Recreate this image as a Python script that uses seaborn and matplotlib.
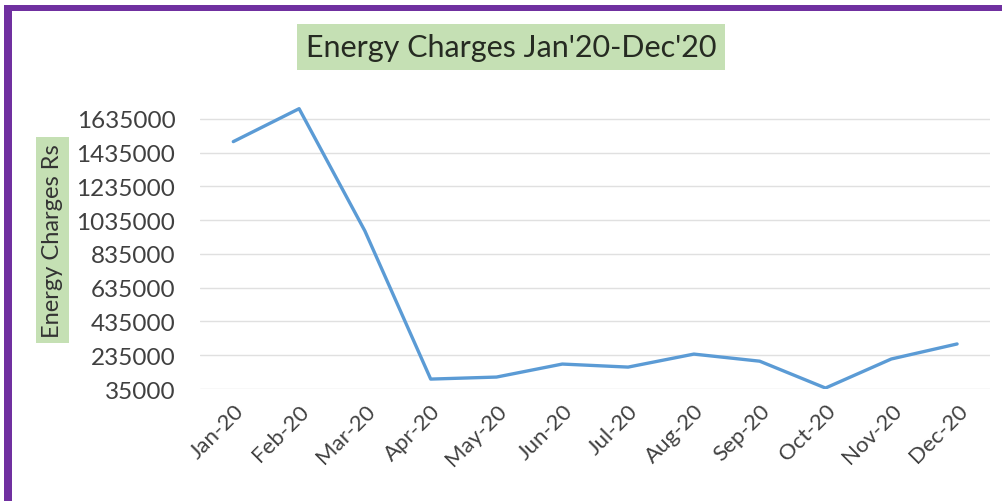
import matplotlib
matplotlib.use("Agg")
import matplotlib.pyplot as plt
import seaborn as sns
import pandas as pd
from matplotlib.patches import Rectangle

months = ["Jan-20", "Feb-20", "Mar-20", "Apr-20", "May-20", "Jun-20",
          "Jul-20", "Aug-20", "Sep-20", "Oct-20", "Nov-20", "Dec-20"]
charges = [1500000, 1695000, 971000, 94000, 106000, 183000,
           165000, 242000, 200000, 41000, 213000, 302000]
yticks = [35000, 235000, 435000, 635000, 835000, 1035000, 1235000, 1435000, 1635000]

sns.set_theme(style="white")
plt.rcParams['font.family'] = ['Lato', 'DejaVu Sans']

df = pd.DataFrame({"month": months, "charges": charges})

fig = plt.figure(figsize=(10.02, 5.02), dpi=100)
ax = fig.add_axes([0.2, 0.223, 0.788, 0.577])

sns.lineplot(data=df, x="month", y="charges", ax=ax, color="#5b9bd5",
             linewidth=2.4, sort=False)

ax.set_xlim(-0.5, 11.5)
ax.set_ylim(35000, 1750000)
ax.set_yticks(yticks)
ax.set_yticklabels([str(v) for v in yticks], fontsize=17.5, color="#404040")
ax.yaxis.grid(True, color="#e0e0e0", linewidth=1.0)
ax.xaxis.grid(False)
for s in ax.spines.values():
    s.set_visible(False)
ax.tick_params(axis="both", length=0)
ax.tick_params(axis="y", pad=18)
ax.tick_params(axis="x", pad=8)
for lbl in ax.get_xticklabels():
    lbl.set_rotation(45)
    lbl.set_ha("right")
    lbl.set_rotation_mode("anchor")
    lbl.set_fontsize(16)
    lbl.set_color("#404040")
ax.set_xlabel("")
ax.set_ylabel("")

fig.text(0.51, 0.905, "Energy Charges Jan'20-Dec'20", ha="center", va="center",
         fontsize=22, color="#262b22",
         bbox=dict(boxstyle="square,pad=0.3", facecolor="#c5e0b4", edgecolor="none"))
fig.text(0.052, 0.52, "Energy Charges Rs", ha="center", va="center", rotation=90,
         fontsize=17, color="#333333",
         bbox=dict(boxstyle="square,pad=0.25", facecolor="#c5e0b4", edgecolor="none"))

# purple frame (left and top edges)
fig.patches.append(Rectangle((0.004, 0.0), 0.008, 0.988, transform=fig.transFigure,
                             facecolor="#7030a0", edgecolor="none"))
fig.patches.append(Rectangle((0.004, 0.976), 0.996, 0.012, transform=fig.transFigure,
                             facecolor="#7030a0", edgecolor="none"))

fig.savefig("out.png", dpi=100)
